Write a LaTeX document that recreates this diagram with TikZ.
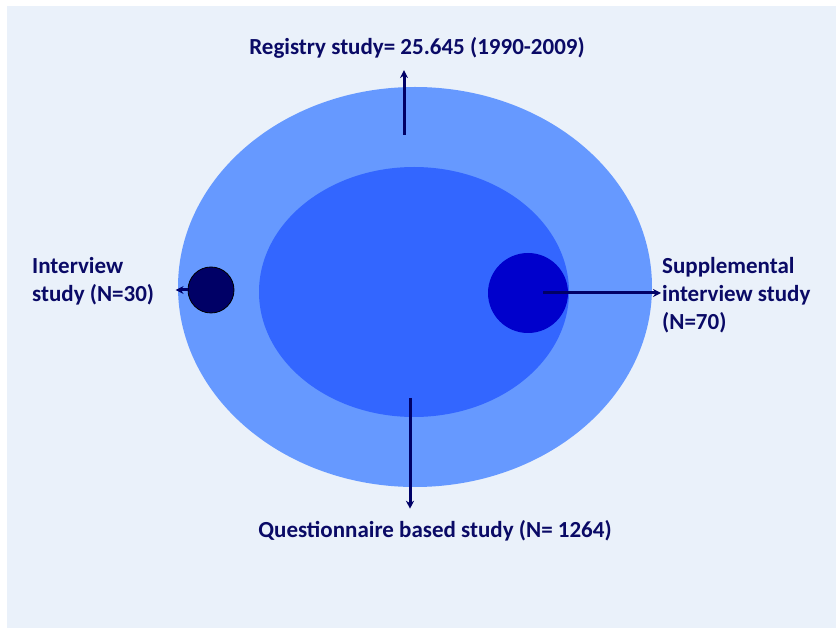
\documentclass[tikz,border=0pt]{standalone}
\usepackage{fontspec}
\setmainfont{Carlito}
\usetikzlibrary{arrows.meta, positioning}
\definecolor{pagebg}{HTML}{EAF1FA}
\definecolor{outerblue}{HTML}{6699FF}
\definecolor{innerblue}{HTML}{3366FF}
\definecolor{navy}{HTML}{000066}
\definecolor{deepblue}{HTML}{0000CC}
\definecolor{labelnavy}{HTML}{0A0A66}
\tikzset{
  label/.style={text=labelnavy, inner sep=1pt},
  pointer/.style={->, line width=3pt, draw=navy}
}

\begin{document}
\begin{tikzpicture}[x=1pt, y=-1pt, >={Stealth[length=8pt, width=8pt]},
    font=\bfseries\fontsize{23}{28}\selectfont]
                  % Background
                  \useasboundingbox (0,0) rectangle (836,628);
                  \fill[pagebg] (7,6) rectangle (836,628);

                  % Study populations
                  \fill[outerblue] (415,287) ellipse [x radius=237, y radius=200];
                  \fill[innerblue] (414,292) ellipse [x radius=155, y radius=125];
                  \node[circle, draw=black, thick, fill=navy, minimum size=46pt, inner sep=0pt] (interview) at (211,290) {};
                  \node[circle, fill=deepblue, minimum size=80pt, inner sep=0pt] (supplemental) at (528,293) {};

                  % Labels
                  \node[label, anchor=base] (registry) at (417,55) {Registry study= 25.645 (1990-2009)};
                  \node[label, anchor=west, align=left] (intlabel) at (31,281) {Interview\\study (N=30)};
                  \node[label, anchor=west, align=left] (supplabel) at (661,295) {Supplemental\\interview study\\(N=70)};
                  \node[label, anchor=base] (questionnaire) at (435,537) {Questionnaire based study (N= 1264)};

                  % Pointers
                  \coordinate (regtail) at (404,135);
                  \coordinate (questtail) at (410,398);
                  \draw[pointer, shorten >=10pt] (regtail) -- (regtail |- registry.south);
                  \draw[pointer] (interview.west) -- ([xshift=-12pt]interview.west);
                  \draw[pointer] ([xshift=15pt]supplemental.center) -- (supplabel.west |- supplemental);
                  \draw[pointer, shorten >=10pt] (questtail) -- (questtail |- questionnaire.north);
              \end{tikzpicture}
\end{document}
